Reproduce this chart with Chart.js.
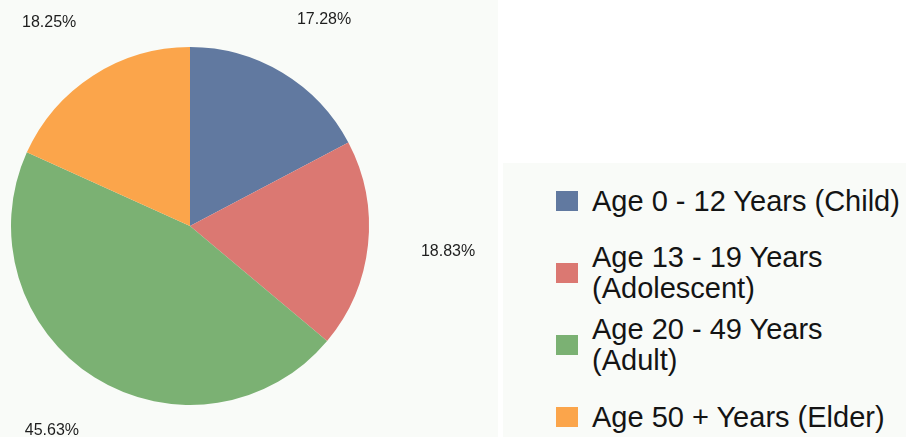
<!DOCTYPE html>
<html>
<head>
<meta charset="utf-8">
<script src="https://cdn.jsdelivr.net/npm/chart.js@4"></script>
<style>
  html, body { margin: 0; padding: 0; background: #ffffff; }
  body { width: 906px; height: 437px; position: relative; overflow: hidden; font-family: "Liberation Sans", Arial, sans-serif; }
  #pieBox { position: absolute; left: 0; top: 0; width: 498px; height: 437px; background: #f9fbf8; }
  #legendBox { position: absolute; left: 503px; top: 163px; width: 403px; height: 274px; background: #f9fbf8; }
  .item { position: absolute; left: 53px; height: 72px; display: flex; align-items: center; }
  .box { width: 22px; height: 20px; margin-right: 14px; flex: none; }
  .txt { font-size: 29px; line-height: 31px; color: #141414; white-space: nowrap; }
</style>
</head>
<body>
<div id="pieBox"><canvas id="ageChart"></canvas></div>
<div id="legendBox"></div>
<script>
// categorias (cada uma em linhas, como na legenda)
const categories = [
  ['Age 0 - 12 Years (Child)'],
  ['Age 13 - 19 Years', '(Adolescent)'],
  ['Age 20 - 49 Years', '(Adult)'],
  ['Age 50 + Years (Elder)']
];
const shares = [17.28, 18.83, 45.63, 18.25];
const sliceColors = ['#6179a0', '#db7872', '#7bb173', '#fba54b'];

// legenda em html ao lado
const legendBox = document.getElementById('legendBox');
categories.forEach((lines, i) => {
  const row = document.createElement('div');
  row.className = 'item';
  row.style.top = (2 + i * 72) + 'px';
  row.innerHTML = '<span class="box" style="background:' + sliceColors[i] + '"></span>' +
    '<span class="txt">' + lines.join('<br>') + '</span>';
  legendBox.appendChild(row);
});

// rótulos de porcentagem fora da pizza (numa elipse um pouco mais larga que alta)
const outerLabels = {
  id: 'outerLabels',
  afterDatasetsDraw(chart) {
    const ctx = chart.ctx;
    const meta = chart.getDatasetMeta(0);
    ctx.save();
    ctx.font = '16px "Liberation Sans", Arial, sans-serif';
    ctx.fillStyle = '#1e1e1e';
    ctx.textAlign = 'center';
    ctx.textBaseline = 'middle';
    meta.data.forEach((arc, i) => {
      const p = arc.getProps(['x', 'y', 'startAngle', 'endAngle', 'outerRadius'], true);
      const mid = (p.startAngle + p.endAngle) / 2;
      const rx = p.outerRadius * 1.45;
      const ry = p.outerRadius * 1.35;
      ctx.fillText(shares[i].toFixed(2) + '%', p.x + Math.cos(mid) * rx, p.y + Math.sin(mid) * ry);
    });
    ctx.restore();
  }
};

const ctx = document.getElementById('ageChart').getContext('2d');
const ageChart = new Chart(ctx, {
  type: 'pie',
  data: {
    labels: categories,
    datasets: [{
      data: shares,
      backgroundColor: sliceColors,
      borderWidth: 0
    }]
  },
  options: {
    responsive: true,
    maintainAspectRatio: false,
    animation: false,
    layout: { padding: { left: 11, top: 47, right: 129, bottom: 32 } },
    plugins: {
      legend: { display: false },
      tooltip: { enabled: true }
    }
  },
  plugins: [outerLabels]
});
</script>
</body>
</html>
